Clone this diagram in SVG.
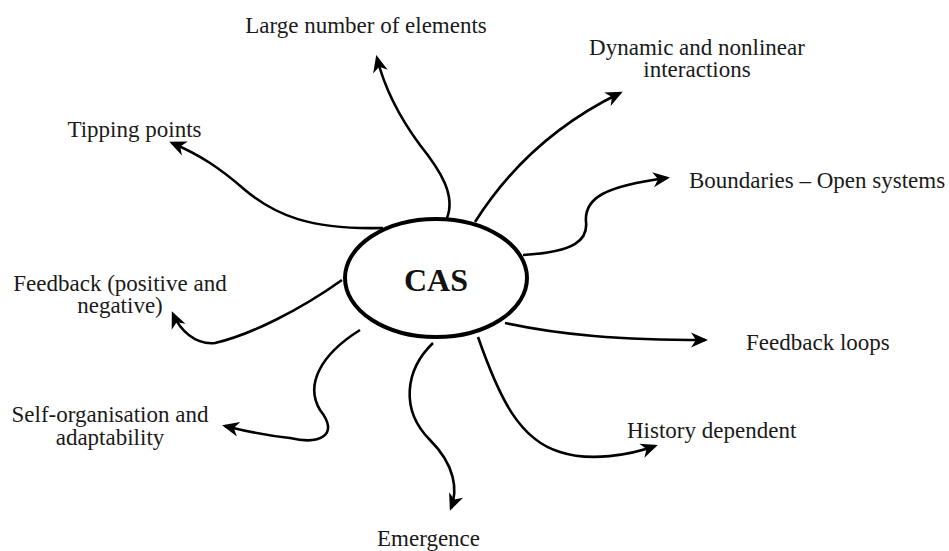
<svg xmlns="http://www.w3.org/2000/svg" width="949" height="551" viewBox="0 0 949 551">
  <style>
    .lbl { font-family: "Liberation Serif", "Times New Roman", serif; font-size: 23px; fill: #1a1a1a; }
    .mid { text-anchor: middle; }
    .conn { fill: none; stroke: #000; stroke-width: 2.6; marker-end: url(#ah); }
    .core { fill: #fff; stroke: #000; stroke-width: 4; }
    .core-text { font-family: "Liberation Serif", "Times New Roman", serif; font-size: 32px; font-weight: bold; fill: #111; text-anchor: middle; }
  </style>
  <defs>
    <marker id="ah" markerUnits="userSpaceOnUse" markerWidth="30" markerHeight="30" refX="0" refY="0" orient="auto" overflow="visible">
      <path d="M-14,-7.5 L3,0 L-14,7.5 L-9,0 Z" fill="#000"/>
    </marker>
  </defs>
  <rect width="949" height="551" fill="#fff"/>

  <!-- connectors radiating from the central ellipse -->
  <g id="connectors">
    <path class="conn" d="M383 228 C310 230 275 215 245 190 C220 168 200 155 172 143"/>
    <path class="conn" d="M447 218 C456 195 440 170 420 145 C400 118 385 90 377 58"/>
    <path class="conn" d="M475 222 Q528 138 620 93"/>
    <path class="conn" d="M523 255 C575 252 588 240 586 222 C584 198 605 186 667 178"/>
    <path class="conn" d="M505 323 C560 335 620 340 705 340"/>
    <path class="conn" d="M478 337 C500 400 520 440 560 452 C590 462 630 455 655 446"/>
    <path class="conn" d="M433 343 C405 370 400 410 430 440 C455 465 458 490 451 508"/>
    <path class="conn" d="M360 330 C320 355 305 385 320 410 C340 435 320 445 290 438 C260 435 242 430 225 426"/>
    <path class="conn" d="M342 280 C300 310 250 335 215 343 C195 345 180 330 173 314"/>
  </g>

  <g id="cas">
    <ellipse class="core" cx="436" cy="278" rx="91" ry="59"/>
    <text class="core-text" x="436" y="291">CAS</text>
  </g>

  <g id="tipping-points">
    <text class="lbl mid" x="134.5" y="137">Tipping points</text>
  </g>
  <g id="large-number">
    <text class="lbl mid" x="366" y="33">Large number of elements</text>
  </g>
  <g id="dynamic">
    <text class="lbl mid" x="697" y="55">Dynamic and nonlinear</text>
    <text class="lbl mid" x="697" y="77">interactions</text>
  </g>
  <g id="boundaries">
    <text class="lbl" x="689" y="188">Boundaries – Open systems</text>
  </g>
  <g id="feedback-loops">
    <text class="lbl" x="746" y="350">Feedback loops</text>
  </g>
  <g id="history">
    <text class="lbl" x="627" y="438">History dependent</text>
  </g>
  <g id="emergence">
    <text class="lbl mid" x="428.5" y="546">Emergence</text>
  </g>
  <g id="self-organisation">
    <text class="lbl mid" x="110" y="422">Self-organisation and</text>
    <text class="lbl mid" x="110" y="445">adaptability</text>
  </g>
  <g id="feedback-pn">
    <text class="lbl mid" x="120" y="291">Feedback (positive and</text>
    <text class="lbl mid" x="120" y="313">negative)</text>
  </g>
</svg>
